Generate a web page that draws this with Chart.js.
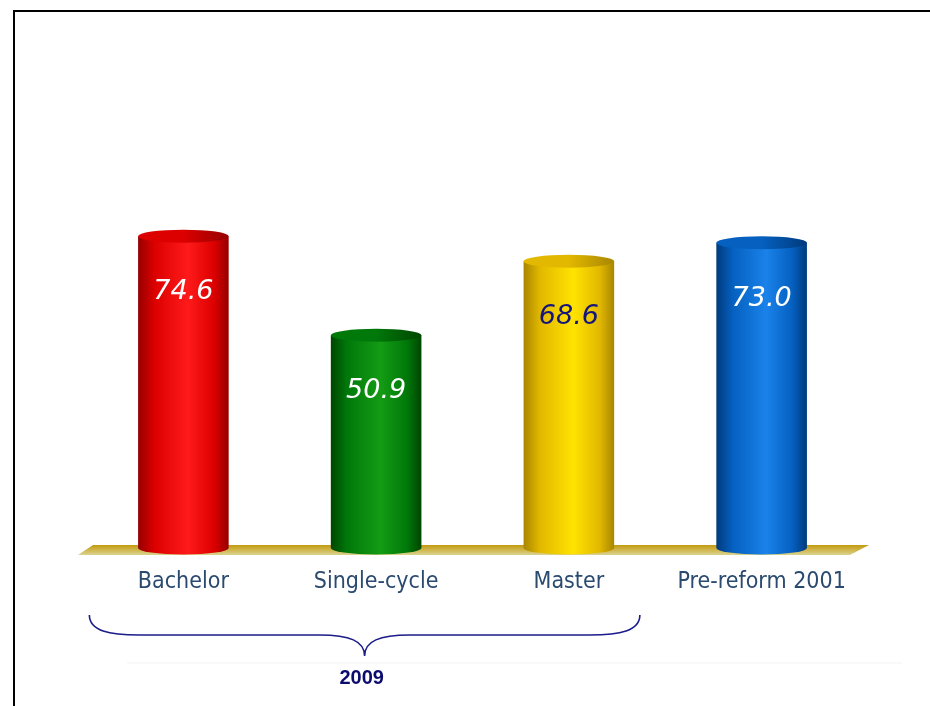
<!DOCTYPE html>
<html>
<head>
<meta charset="utf-8">
<title>Completion rate by degree type</title>
<script src="https://cdn.jsdelivr.net/npm/chart.js@4.4.1/dist/chart.umd.min.js"></script>
<style>
  html, body { margin: 0; padding: 0; background: #ffffff; }
  #wrap { position: relative; width: 930px; height: 706px; }
</style>
</head>
<body>
<div id="wrap"><canvas id="chart" width="930" height="706"></canvas></div>
<script>
const categories = ['Bachelor', 'Single-cycle', 'Master', 'Pre-reform 2001'];
const values = [74.6, 50.9, 68.6, 73.0];
const groupLabel = '2009';
const groupedCount = 3; // first three bars are the 2009 cohort

// cylinder shading: [edge, mid, highlight]
const shades = [
    ['#950000', '#dc0000', '#ff1a1a'],
    ['#004600', '#00780a', '#149c14'],
    ['#a88600', '#e2b800', '#ffe300'],
    ['#003a7c', '#0560c0', '#1a82ea']
];
const valueColors = ['#ffffff', '#ffffff', '#14147a', '#ffffff'];

const BAR_PCT = 0.47;

function barHalfWidth(chart) {
    const xs = chart.scales.x;
    return xs.width / categories.length * BAR_PCT / 2;
}

function bodyGradient(ctx, cx, hw, s) {
    const g = ctx.createLinearGradient(cx - hw, 0, cx + hw, 0);
    g.addColorStop(0, s[0]);
    g.addColorStop(0.18, s[1]);
    g.addColorStop(0.55, s[2]);
    g.addColorStop(0.84, s[1]);
    g.addColorStop(1, s[0]);
    return g;
}

// floor slab, frame, cylinder caps, value labels and the 2009 brace
const cylinderPlugin = {
    id: 'cylinders',
    beforeDatasetsDraw(chart) {
        const { ctx, chartArea } = chart;
        const base = chart.scales.y.getPixelForValue(0);
        ctx.save();
        // frame
        ctx.strokeStyle = '#000000';
        ctx.lineWidth = 2;
        ctx.beginPath();
        ctx.moveTo(14, 706);
        ctx.lineTo(14, 11);
        ctx.lineTo(930, 11);
        ctx.stroke();
        // floor
        const g = ctx.createLinearGradient(0, base - 3, 0, base + 7);
        g.addColorStop(0, '#c09a10');
        g.addColorStop(0.4, '#cfb040');
        g.addColorStop(1, '#d8d490');
        ctx.fillStyle = g;
        ctx.beginPath();
        ctx.moveTo(chartArea.left + 6, base - 3);
        ctx.lineTo(chartArea.right + 11, base - 3);
        ctx.lineTo(chartArea.right - 8, base + 7);
        ctx.lineTo(chartArea.left - 9, base + 7);
        ctx.closePath();
        ctx.fill();
        ctx.restore();
    },
    afterDatasetsDraw(chart) {
        const { ctx } = chart;
        const meta = chart.getDatasetMeta(0);
        const ry = 6.5;
        ctx.save();
        meta.data.forEach((bar, i) => {
            const s = shades[i];
            const hw = bar.width / 2;
            // rounded bottom
            ctx.fillStyle = bodyGradient(ctx, bar.x, hw, s);
            ctx.beginPath();
            ctx.ellipse(bar.x, bar.base, hw, ry, 0, 0, Math.PI);
            ctx.fill();
            // top cap
            const tg = ctx.createLinearGradient(bar.x - hw, 0, bar.x + hw, 0);
            tg.addColorStop(0, s[1]);
            tg.addColorStop(0.5, s[1]);
            tg.addColorStop(1, s[0]);
            ctx.fillStyle = tg;
            ctx.beginPath();
            ctx.ellipse(bar.x, bar.y, hw, ry, 0, 0, Math.PI * 2);
            ctx.fill();
            // value
            ctx.fillStyle = valueColors[i];
            ctx.font = 'italic 27px "DejaVu Sans", sans-serif';
            ctx.textAlign = 'center';
            ctx.textBaseline = 'middle';
            ctx.fillText(values[i].toFixed(1), bar.x, bar.y + 56);
        });

        // brace under the 2009 group
        const base = chart.scales.y.getPixelForValue(0);
        const first = meta.data[0];
        const last = meta.data[groupedCount - 1];
        const left = first.x - 94;
        const right = last.x + 71;
        const mid = (left + right) / 2;
        const top = base + 67, line = base + 87, tip = base + 108;
        ctx.strokeStyle = '#1c1c8a';
        ctx.lineWidth = 1.6;
        ctx.beginPath();
        ctx.moveTo(left, top);
        ctx.bezierCurveTo(left, line - 4, left + 20, line, left + 50, line);
        ctx.lineTo(mid - 45, line);
        ctx.bezierCurveTo(mid - 15, line, mid, line + 6, mid, tip);
        ctx.bezierCurveTo(mid, line + 6, mid + 15, line, mid + 45, line);
        ctx.lineTo(right - 50, line);
        ctx.bezierCurveTo(right - 20, line, right, line - 4, right, top);
        ctx.stroke();

        // faint band behind the group label
        ctx.fillStyle = 'rgba(0,0,0,0.025)';
        ctx.fillRect(127, base + 114, 775, 2);

        ctx.fillStyle = '#0c0c6e';
        ctx.font = 'bold 20px "Liberation Sans", Arial, sans-serif';
        ctx.textAlign = 'center';
        ctx.textBaseline = 'middle';
        ctx.fillText(groupLabel, mid - 3, base + 130);
        ctx.restore();
    }
};

const ctx = document.getElementById('chart').getContext('2d');
new Chart(ctx, {
    type: 'bar',
    data: {
        labels: categories,
        datasets: [{
            data: values,
            backgroundColor: (c) => {
                const chart = c.chart;
                const s = shades[c.dataIndex % shades.length];
                if (!chart.chartArea || !chart.scales.x) return s[1];
                const cx = chart.scales.x.getPixelForValue(c.dataIndex);
                return bodyGradient(chart.ctx, cx, barHalfWidth(chart), s);
            },
            borderWidth: 0,
            barPercentage: 0.94,
            categoryPercentage: 0.5
        }]
    },
    options: {
        responsive: false,
        animation: false,
        layout: { padding: { left: 87, right: 72, top: 130, bottom: 0 } },
        plugins: {
            legend: { display: false },
            tooltip: { enabled: false }
        },
        scales: {
            x: {
                grid: { display: false, drawTicks: false },
                border: { display: false },
                ticks: {
                    color: '#2b4a6f',
                    padding: 20,
                    font: { size: 23, family: '"DejaVu Sans Condensed", "DejaVu Sans", sans-serif' }
                },
                afterFit: (scale) => { scale.height = 158; }
            },
            y: {
                display: false,
                min: 0,
                max: 100
            }
        }
    },
    plugins: [cylinderPlugin]
});
</script>
</body>
</html>
